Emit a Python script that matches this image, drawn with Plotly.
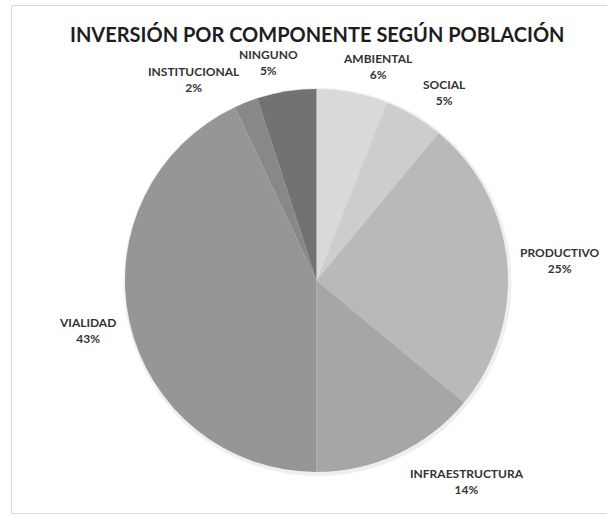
import plotly.graph_objects as go

categories = ["AMBIENTAL", "SOCIAL", "PRODUCTIVO", "INFRAESTRUCTURA", "VIALIDAD", "INSTITUCIONAL", "NINGUNO"]
values = [6, 5, 25, 14, 43, 2, 5]
colors = ["#d9d9d9", "#cdcdcd", "#b9b9b9", "#a6a6a6", "#969696", "#888888", "#727272"]
title_text = "INVERSIÓN POR COMPONENTE SEGÚN POBLACIÓN"

# layout (pixels from top-left of the 607x515 canvas)
W, H = 607, 515
cx, cy, R = 316.5, 280.5, 191.5
label_centres = [(378, 66), (444, 92), (560, 260), (467, 481), (87, 330), (194, 80), (268, 63)]


def dom(x0, y0, r):
    return dict(x=[(x0 - r) / W, (x0 + r) / W], y=[(H - y0 - r) / H, (H - y0 + r) / H])


fig = go.Figure()
# soft shadow behind the pie
fig.add_trace(go.Pie(values=[1], marker=dict(colors=["#efefef"], line=dict(width=0)),
                     textinfo="none", hoverinfo="skip", showlegend=False, sort=False,
                     domain=dom(cx + 1, cy + 1.5, R + 2.5)))
fig.add_trace(go.Pie(
    labels=categories, values=values, sort=False, direction="clockwise", rotation=0,
    marker=dict(colors=colors, line=dict(width=0)),
    textinfo="none", hoverinfo="label+percent", showlegend=False,
    domain=dom(cx, cy, R),
))

total = sum(values)
annotations = []
for cat, v, (lx, ly) in zip(categories, values, label_centres):
    pct = round(v / total * 100)
    annotations.append(dict(
        x=lx / W, y=1 - ly / H, xref="paper", yref="paper",
        text=f"<b>{cat}</b><br><b>{pct}%</b>", showarrow=False,
        xanchor="center", yanchor="middle", align="center",
        font=dict(family="Lato", size=12, color="#333333"),
    ))

annotations.append(dict(
    x=cx / W, y=1 - 34 / H, xref="paper", yref="paper", text=f"<b>{title_text}</b>",
    showarrow=False, xanchor="center", yanchor="middle",
    font=dict(family="Lato", size=20, color="#1e1e1e"),
))

fig.update_layout(
    width=W, height=H, margin=dict(l=0, r=0, t=0, b=0),
    paper_bgcolor="white", plot_bgcolor="white",
    annotations=annotations,
    shapes=[dict(type="rect", xref="paper", yref="paper", x0=11.5 / W, x1=1.05,
                 y0=1 - 513.5 / H, y1=1 - 5.5 / H, line=dict(color="#d9d9d9", width=1))],
)
fig.write_html("out.html", config={"displayModeBar": False},
               post_script="document.body.style.margin='0';document.body.style.padding='0';")
